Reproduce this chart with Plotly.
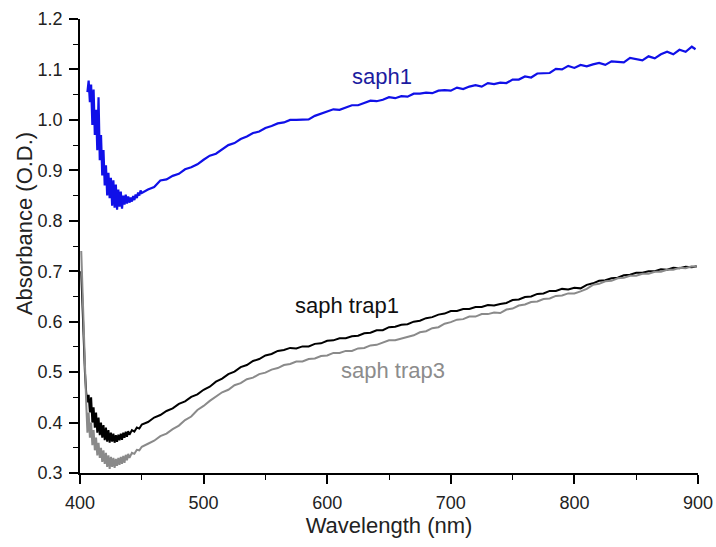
import plotly.graph_objects as go

# ---------------- data ----------------
wl_saph1 = [406, 407, 408, 409, 410, 411, 412, 413, 414, 415, 416, 417, 418, 419, 420,
            421, 422, 423, 424, 425, 426, 427, 428, 429, 430, 431, 432, 433, 434, 435,
            436, 437, 438, 439, 440, 441, 442, 443, 444, 445, 446, 447, 448, 449, 450,
            455, 460, 465, 470, 475, 480, 485, 490, 495, 500, 505, 510, 515, 520, 525,
            530, 535, 540, 545, 550, 555, 560, 565, 570, 575, 580, 585, 590, 595, 600,
            605, 610, 615, 620, 625, 630, 635, 640, 645, 650, 655, 660, 665, 670, 675,
            680, 685, 690, 695, 700, 705, 710, 715, 720, 725, 730, 735, 740, 745, 750,
            755, 760, 765, 770, 775, 780, 785, 790, 795, 800, 805, 810, 815, 820, 825,
            830, 835, 840, 845, 850, 855, 860, 865, 870, 875, 880, 885, 890, 895, 898]
abs_saph1 = [1.055, 1.078, 1.035, 1.070, 0.990, 1.060, 0.970, 1.020, 0.940, 1.045, 0.920, 0.970, 0.890, 0.940, 0.870,
             0.910, 0.850, 0.895, 0.845, 0.885, 0.830, 0.880, 0.826, 0.872, 0.822, 0.862, 0.828, 0.858, 0.824, 0.850,
             0.832, 0.852, 0.834, 0.848, 0.836, 0.846, 0.838, 0.849, 0.841, 0.852, 0.845, 0.856, 0.850, 0.860, 0.855,
             0.862, 0.867, 0.880, 0.882, 0.889, 0.893, 0.902, 0.906, 0.912, 0.921, 0.929, 0.933, 0.941, 0.950, 0.954,
             0.962, 0.967, 0.974, 0.977, 0.984, 0.988, 0.993, 0.995, 1.000, 1.000, 1.001, 1.001, 1.008, 1.012, 1.017,
             1.021, 1.020, 1.024, 1.029, 1.029, 1.034, 1.038, 1.037, 1.040, 1.045, 1.043, 1.047, 1.046, 1.052, 1.052,
             1.054, 1.053, 1.058, 1.059, 1.058, 1.064, 1.061, 1.066, 1.069, 1.066, 1.073, 1.071, 1.074, 1.073, 1.080,
             1.080, 1.086, 1.084, 1.092, 1.093, 1.093, 1.101, 1.100, 1.107, 1.103, 1.109, 1.106, 1.110, 1.113, 1.109,
             1.116, 1.115, 1.114, 1.123, 1.121, 1.118, 1.126, 1.122, 1.130, 1.135, 1.130, 1.139, 1.135, 1.145, 1.140]

wl_trap1 = [401, 402, 403, 404, 405, 406, 407, 408, 409, 410, 411, 412, 413, 414, 415,
            416, 417, 418, 419, 420, 421, 422, 423, 424, 425, 426, 427, 428, 429, 430,
            431, 432, 433, 434, 435, 436, 437, 438, 439, 440, 442, 444, 446, 448, 450,
            455, 460, 465, 470, 475, 480, 485, 490, 495, 500, 505, 510, 515, 520, 525,
            530, 535, 540, 545, 550, 555, 560, 565, 570, 575, 580, 585, 590, 595, 600,
            605, 610, 615, 620, 625, 630, 635, 640, 645, 650, 655, 660, 665, 670, 675,
            680, 685, 690, 695, 700, 705, 710, 715, 720, 725, 730, 735, 740, 745, 750,
            755, 760, 765, 770, 775, 780, 785, 790, 795, 800, 805, 810, 815, 820, 825,
            830, 835, 840, 845, 850, 855, 860, 865, 870, 875, 880, 885, 890, 895, 899]
abs_trap1 = [0.700, 0.620, 0.550, 0.500, 0.460, 0.440, 0.455, 0.420, 0.450, 0.400, 0.430, 0.390, 0.420, 0.380, 0.410,
             0.375, 0.400, 0.370, 0.395, 0.365, 0.390, 0.362, 0.385, 0.360, 0.380, 0.362, 0.378, 0.360, 0.375, 0.362,
             0.376, 0.365, 0.378, 0.366, 0.380, 0.370, 0.382, 0.372, 0.383, 0.376, 0.385, 0.382, 0.390, 0.388, 0.396,
             0.401, 0.410, 0.415, 0.423, 0.428, 0.437, 0.442, 0.451, 0.456, 0.465, 0.471, 0.481, 0.487, 0.496, 0.501,
             0.510, 0.514, 0.522, 0.526, 0.533, 0.536, 0.542, 0.544, 0.548, 0.547, 0.551, 0.551, 0.556, 0.557, 0.562,
             0.563, 0.567, 0.567, 0.571, 0.572, 0.577, 0.578, 0.583, 0.583, 0.589, 0.590, 0.594, 0.595, 0.600, 0.602,
             0.607, 0.609, 0.614, 0.616, 0.621, 0.621, 0.625, 0.625, 0.629, 0.629, 0.633, 0.632, 0.635, 0.637, 0.643,
             0.644, 0.649, 0.650, 0.655, 0.656, 0.661, 0.661, 0.665, 0.664, 0.667, 0.666, 0.673, 0.676, 0.681, 0.682,
             0.686, 0.687, 0.692, 0.693, 0.697, 0.697, 0.700, 0.700, 0.704, 0.703, 0.707, 0.706, 0.709, 0.708, 0.710]

wl_trap3 = [401, 402, 403, 404, 405, 406, 407, 408, 409, 410, 411, 412, 413, 414, 415,
            416, 417, 418, 419, 420, 421, 422, 423, 424, 425, 426, 427, 428, 429, 430,
            431, 432, 433, 434, 435, 436, 437, 438, 439, 440, 442, 444, 446, 448, 450,
            455, 460, 465, 470, 475, 480, 485, 490, 495, 500, 505, 510, 515, 520, 525,
            530, 535, 540, 545, 550, 555, 560, 565, 570, 575, 580, 585, 590, 595, 600,
            605, 610, 615, 620, 625, 630, 635, 640, 645, 650, 655, 660, 665, 670, 675,
            680, 685, 690, 695, 700, 705, 710, 715, 720, 725, 730, 735, 740, 745, 750,
            755, 760, 765, 770, 775, 780, 785, 790, 795, 800, 805, 810, 815, 820, 825,
            830, 835, 840, 845, 850, 855, 860, 865, 870, 875, 880, 885, 890, 895, 899]
abs_trap3 = [0.740, 0.660, 0.560, 0.490, 0.440, 0.380, 0.420, 0.370, 0.400, 0.355, 0.385, 0.345, 0.370, 0.335, 0.360,
             0.330, 0.350, 0.322, 0.345, 0.318, 0.340, 0.312, 0.335, 0.308, 0.332, 0.312, 0.330, 0.310, 0.328, 0.314,
             0.330, 0.316, 0.332, 0.318, 0.334, 0.320, 0.336, 0.325, 0.338, 0.330, 0.340, 0.338, 0.346, 0.345, 0.352,
             0.358, 0.364, 0.373, 0.378, 0.387, 0.394, 0.405, 0.412, 0.425, 0.433, 0.443, 0.451, 0.460, 0.465, 0.474,
             0.478, 0.486, 0.489, 0.496, 0.499, 0.505, 0.508, 0.514, 0.516, 0.521, 0.521, 0.526, 0.527, 0.532, 0.533,
             0.538, 0.538, 0.542, 0.542, 0.547, 0.548, 0.553, 0.554, 0.558, 0.563, 0.563, 0.566, 0.570, 0.573, 0.579,
             0.581, 0.587, 0.589, 0.596, 0.599, 0.604, 0.605, 0.610, 0.610, 0.615, 0.615, 0.618, 0.617, 0.624, 0.626,
             0.632, 0.634, 0.639, 0.640, 0.645, 0.646, 0.651, 0.652, 0.656, 0.656, 0.660, 0.665, 0.673, 0.675, 0.680,
             0.681, 0.686, 0.687, 0.691, 0.691, 0.695, 0.695, 0.699, 0.699, 0.703, 0.703, 0.707, 0.706, 0.710, 0.709]

x_ticks = [400, 500, 600, 700, 800, 900]
y_ticks = [0.3, 0.4, 0.5, 0.6, 0.7, 0.8, 0.9, 1.0, 1.1, 1.2]
y_tick_text = ["0.3", "0.4", "0.5", "0.6", "0.7", "0.8", "0.9", "1.0", "1.1", "1.2"]

x_title = "Wavelength (nm)"
y_title = "Absorbance (O.D.)"

labels = [
    ("saph1", 644, 1.087, "#1c1ca0"),
    ("saph trap1", 616, 0.633, "#111111"),
    ("saph trap3", 653, 0.504, "#8c8c8c"),
]

# ---------------- figure ----------------
FONT = "Liberation Sans, Arial, sans-serif"

fig = go.Figure()
fig.add_trace(go.Scatter(x=wl_saph1, y=abs_saph1, mode="lines",
                         line=dict(color="#1010e8", width=2.2), showlegend=False))
fig.add_trace(go.Scatter(x=wl_trap1, y=abs_trap1, mode="lines",
                         line=dict(color="#000000", width=2.0), showlegend=False))
fig.add_trace(go.Scatter(x=wl_trap3, y=abs_trap3, mode="lines",
                         line=dict(color="#8a8a8a", width=2.0), showlegend=False))

for text, xv, yv, col in labels:
    fig.add_annotation(x=xv, y=yv, text=text, showarrow=False,
                       font=dict(family=FONT, size=22, color=col),
                       xanchor="center", yanchor="middle")

# y-axis title, placed as in the reference (slightly above the axis centre)
fig.add_annotation(xref="paper", yref="paper", x=-0.0906, y=0.548,
                   text=y_title, textangle=-90, showarrow=False,
                   font=dict(family=FONT, size=22, color="#222222"),
                   xanchor="center", yanchor="middle")

axis_common = dict(
    showline=True, linecolor="#000000", linewidth=1.8,
    ticks="outside", ticklen=9, tickwidth=1.6, tickcolor="#000000",
    showgrid=False, zeroline=False, mirror=False, automargin=False,
    tickfont=dict(family=FONT, size=18, color="#222222"),
)

fig.update_xaxes(
    range=[400, 900], tickvals=x_ticks,
    title=dict(text=x_title, font=dict(family=FONT, size=22, color="#222222"), standoff=6),
    minor=dict(dtick=50, tick0=400, ticks="outside", ticklen=5, tickwidth=1.4, tickcolor="#000000"),
    ticklabelstandoff=3,
    **axis_common,
)
fig.update_yaxes(
    range=[0.3, 1.2], tickvals=y_ticks, ticktext=y_tick_text,
    minor=dict(dtick=0.05, tick0=0.3, ticks="outside", ticklen=5, tickwidth=1.4, tickcolor="#000000"),
    ticklabelstandoff=3,
    **axis_common,
)

fig.update_layout(
    width=716, height=547,
    margin=dict(l=80, r=18, t=19, b=74),
    paper_bgcolor="#ffffff", plot_bgcolor="#ffffff",
    showlegend=False,
)

fig.write_html("out.html")
